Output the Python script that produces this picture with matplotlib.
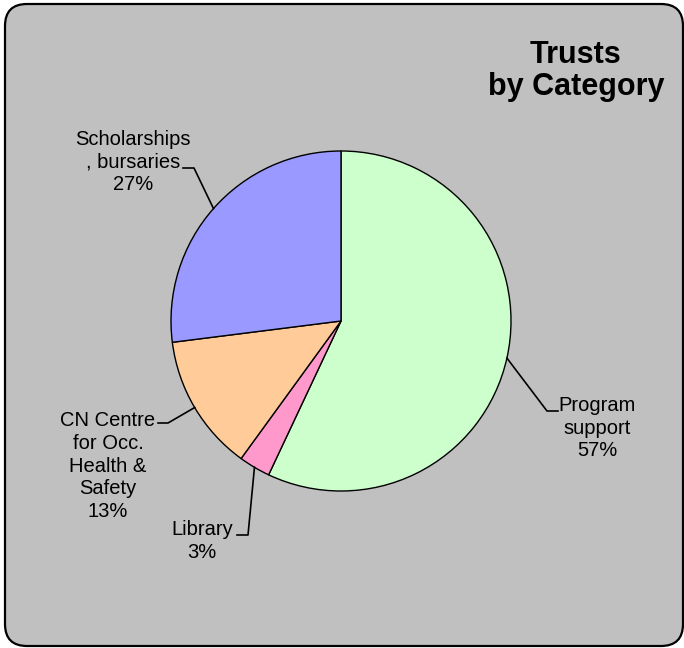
import numpy as np
import matplotlib
matplotlib.use('Agg')
import matplotlib.pyplot as plt
from matplotlib.patches import FancyBboxPatch

plt.rcParams['font.family'] = ['Liberation Sans', 'DejaVu Sans']

# data
categories = ['Program\nsupport', 'Library', 'CN Centre\nfor Occ.\nHealth &\nSafety', 'Scholarships\n, bursaries']
shares = [57, 3, 13, 27]
colors = ['#CCFFCC', '#FF99CC', '#FFCC99', '#9999FF']

W, H = 684, 648
def py(y):
    # pixel row -> data y
    return H - y

fig = plt.figure(figsize=(6.84, 6.48), dpi=100)
ax = fig.add_axes([0, 0, 1, 1])
ax.set_xlim(0, W)
ax.set_ylim(0, H)
ax.set_aspect('equal')
ax.axis('off')

# rounded grey panel
panel = FancyBboxPatch((5, py(646)), 678, 642, boxstyle='round,pad=0,rounding_size=22',
                       facecolor='#C0C0C0', edgecolor='black', lw=1.6, zorder=0)
ax.add_patch(panel)

cx, cy, r = 341, py(321), 170
wedges, _ = ax.pie(shares, colors=colors, startangle=90, counterclock=False,
                   center=(cx, cy), radius=r, frame=True,
                   wedgeprops=dict(edgecolor='black', linewidth=1.0))
ax.set_xlim(0, W)
ax.set_ylim(0, H)
ax.axis('off')

# label layout: text centre, elbow point, end of horizontal stub
layout = [
    ((597, 428), (547, 411), (558, 411)),
    ((202, 541), (248, 535), (237, 535)),
    ((108, 466), (168, 423), (158, 423)),
    ((133, 162), (194, 168), (183, 168)),
]

for w, cat, s, (tpos, elbow, stub) in zip(wedges, categories, shares, layout):
    mid = np.deg2rad((w.theta1 + w.theta2) / 2)
    ex = cx + r * np.cos(mid)
    ey = cy + r * np.sin(mid)
    ax.plot([ex, elbow[0], stub[0]], [ey, py(elbow[1]), py(stub[1])], color='black', lw=1.2, zorder=3)
    ax.text(tpos[0], py(tpos[1]), '%s\n%d%%' % (cat, s), ha='center', va='center',
            multialignment='center', fontsize=14.5, linespacing=1.24, zorder=4)

ax.text(576, py(71), 'Trusts\nby Category', ha='center', va='center', multialignment='center',
        fontsize=22, fontweight='bold', linespacing=1.13)

fig.savefig('out.png', dpi=100)
